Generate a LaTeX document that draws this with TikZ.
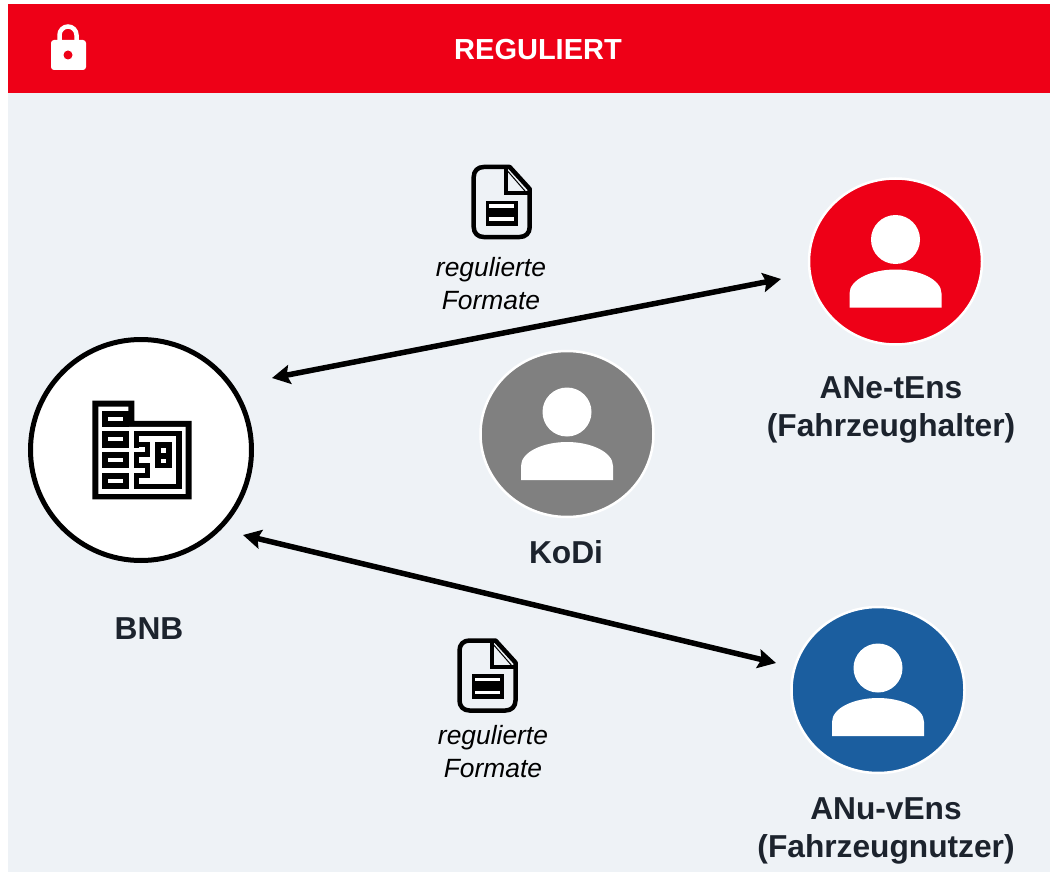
\documentclass[tikz,border=0pt]{standalone}
\usepackage{fontspec}
\setmainfont{Liberation Sans}
\usetikzlibrary{shapes.geometric,arrows.meta}
\definecolor{hdr}{HTML}{EE0017}
\definecolor{panel}{HTML}{EEF2F6}
\definecolor{kodi}{HTML}{808080}
\definecolor{anu}{HTML}{1B5E9F}
\definecolor{ink}{HTML}{1C232D}
\tikzset{
  x=1pt,y=-1pt,
  avatar/.style={ellipse,draw=white,line width=2.5pt,minimum width=173pt,minimum height=166pt,inner sep=0pt},
  lbl/.style={font=\fontsize{31.7}{38}\selectfont\bfseries,text=ink,inner sep=0pt},
  fmt/.style={font=\fontsize{26.4}{32}\selectfont\itshape,text=black,inner sep=0pt},
  link/.style={line width=5.5pt,black,{Stealth[length=18pt,width=19pt,inset=3pt]}-{Stealth[length=18pt,width=19pt,inset=3pt]}},
  pics/person/.style={code={
    \fill[white] (0,-22) circle[radius=24.5];
    \fill[white] (-46,46) -- (-46,32) .. controls (-46,18) and (-24,8) .. (0,8)
       .. controls (24,8) and (46,18) .. (46,32) -- (46,46) -- cycle;
  }},
  pics/doc/.style={code={
    \draw[black,line width=4.5pt,line join=round]
      (-28,-25) .. controls (-28,-31) and (-24,-35) .. (-18,-35) -- (8,-35) -- (28,-13) -- (28,25)
      .. controls (28,31) and (24,35) .. (18,35) -- (-18,35)
      .. controls (-24,35) and (-28,31) .. (-28,25) -- cycle;
    \draw[black,line width=4pt,line join=miter] (4.5,-9) -- (4.5,-33);
    \draw[black,line width=4pt,line join=miter] (2.5,-9) -- (27,-9);
    \draw[black,line width=1pt] (5,-32) -- (25,-9);
    \fill[black] (-16,-1.3) rectangle (16,23.7);
    \fill[white] (-12.5,2) rectangle (12.5,5.5);
    \fill[white] (-12.5,15) rectangle (12.5,18.7);
  }}
}
\begin{document}
\begin{tikzpicture}
\useasboundingbox (0,0) rectangle (1050,872);
\fill[white] (0,0) rectangle (1050,872);
\fill[panel] (8,93) rectangle (1050,872);
\fill[hdr] (8,4) rectangle (1050,93);
% lock
\draw[white,line width=4.5pt] (59.5,42) -- (59.5,35) arc[start angle=180,end angle=360,radius=8.5] -- (76.5,42);
\fill[white,rounded corners=3pt] (51,40) rectangle (86,70);
\fill[hdr] (68,55) circle[radius=4.5];
\node[font=\fontsize{29}{36}\selectfont\bfseries,text=white,inner sep=0pt] (title) at (538,50) {REGULIERT};
% BNB
\node[circle,draw=black,fill=white,line width=5pt,minimum size=221pt,inner sep=0pt] (bnb) at (141,450) {};
\begin{scope}[shift={(70,380)},x=0.3333pt,y=-0.3333pt]
  \fill[black] (67,62) -- (193,62) -- (193,123) -- (365,123) -- (365,358) -- (67,358) -- cycle;
  \fill[white] (85,80) -- (175,80) -- (175,141) -- (347,141) -- (347,342) -- (85,342) -- cycle;
  \foreach \a/\b/\c in {92/110/140,153/172/203,216/234/264,278/296/328}{
    \fill[black] (97,\a) rectangle (178,\c);
    \fill[white] (115,\b) rectangle (160,\b+12);
  }
  \draw[black,line width=5.33pt,line join=miter]
    (200,203) -- (200,161) -- (327,161) -- (327,320) -- (200,320) -- (200,287)
    -- (232,287) -- (232,256) -- (200,256) -- (200,224) -- (232,224) -- (232,194) -- (208,194);
  \fill[black] (255,185) rectangle (305,265);
  \fill[white] (272,204) rectangle (287,218);
  \fill[white] (272,236) rectangle (287,248);
\end{scope}
\node[lbl] (bnblabel) at (149,628.5) {BNB};
% avatars
\node[avatar,fill=hdr] (anet) at (895.5,261.5) {};
\pic at (anet.center) {person};
\node[avatar,fill=kodi] (kodi) at (567,434) {};
\pic at (kodi.center) {person};
\node[avatar,fill=anu] (anuv) at (878,690) {};
\pic at (anuv.center) {person};
\node[lbl] (anetA) at (891,388) {ANe-tEns};
\node[lbl] (anetB) at (891,428) {(Fahrzeughalter)};
\node[lbl] (kodilabel) at (566,552.5) {KoDi};
\node[lbl] (anuvA) at (886,809) {ANu-vEns};
\node[lbl] (anuvB) at (886,849) {(Fahrzeugnutzer)};
% documents
\pic at (501.7,202) {doc};
\pic at (487.5,675.5) {doc};
\node[fmt] (f1a) at (491,270) {regulierte};
\node[fmt] (f1b) at (491,301) {Formate};
\node[fmt] (f2a) at (493,738) {regulierte};
\node[fmt] (f2b) at (493,769) {Formate};
% connectors
\coordinate (a1) at (272,378);
\coordinate (a2) at (781,279);
\coordinate (b1) at (243,535);
\coordinate (b2) at (776,663);
\draw[link] (a1) -- (a2);
\draw[link] (b1) -- (b2);
\end{tikzpicture}
\end{document}
